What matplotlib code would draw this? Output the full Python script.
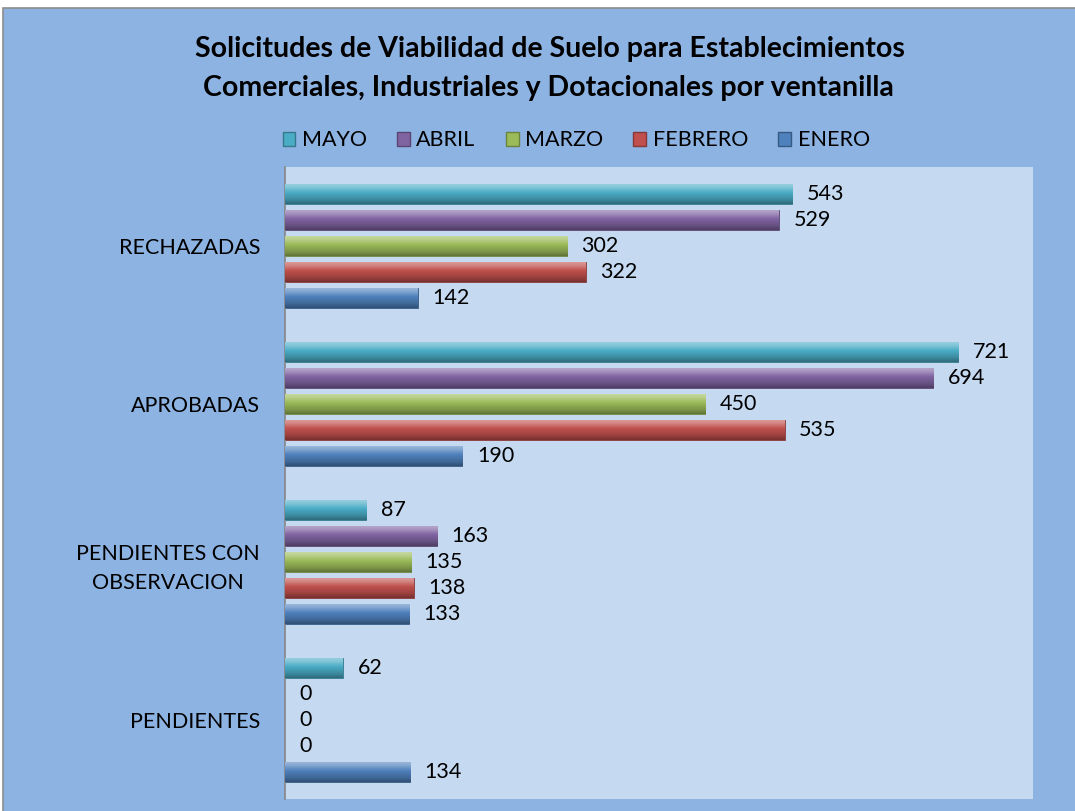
import numpy as np
import matplotlib.pyplot as plt
from matplotlib.patches import Rectangle, Patch
from matplotlib.colors import to_rgb

# data
categories = ["PENDIENTES", "PENDIENTES CON\nOBSERVACION", "APROBADAS", "RECHAZADAS"]
series = ["ENERO", "FEBRERO", "MARZO", "ABRIL", "MAYO"]
enero = [134, 133, 190, 142]
febrero = [0, 138, 535, 322]
marzo = [0, 135, 450, 302]
abril = [0, 163, 694, 529]
mayo = [62, 87, 721, 543]
values = [enero, febrero, marzo, abril, mayo]
colors = ["#4F81BD", "#C0504D", "#9BBB59", "#8064A2", "#4BACC6"]

plt.rcParams["font.family"] = ["Lato", "DejaVu Sans"]

fig = plt.figure(figsize=(10.75, 8.11), dpi=100)
fig.patch.set_facecolor("white")
fig.patches.append(Rectangle((0.003, -0.01), 1.1, 1.0, transform=fig.transFigure,
                             facecolor="#8DB3E2", edgecolor="#8C8C8C", lw=1.2, zorder=-10))

ax = fig.add_axes([0.2651, 0.0148, 0.6958, 0.7792])
ax.set_facecolor("#C5D9F1")

slot = 0.1646
bh = 0.1266
y = np.arange(len(categories))


def shade(c, f):
    r = np.array(to_rgb(c))
    if f >= 1:
        return r + (1 - r) * (f - 1)
    return r * f


for i, (name, vals, col) in enumerate(zip(series, values, colors)):
    ypos = y + (i - 2) * slot
    bars = ax.barh(ypos, vals, height=bh, color=col,
                   edgecolor=[shade(col, 0.7) if v > 0 else "none" for v in vals],
                   lw=0.6, zorder=2)
    for p, v in zip(bars, vals):
        x0, y0, w, h = p.get_x(), p.get_y(), p.get_width(), p.get_height()
        if w > 0:
            # vertical gradient, dark at bottom and light at top
            stops = np.array([0.0, 0.2, 0.55, 0.8, 1.0])
            facs = np.array([0.62, 0.8, 1.0, 1.3, 1.45])
            t = np.linspace(0, 1, 40)
            f = np.interp(t, stops, facs)
            img = np.array([shade(col, k) for k in f]).reshape(-1, 1, 3)
            im = ax.imshow(img, extent=(x0, x0 + w, y0, y0 + h), origin="lower",
                           aspect="auto", zorder=3, interpolation="bilinear")
            im.set_clip_path(p)
        ax.annotate(str(v), (v, y0 + h / 2), xytext=(10.5, 0), textcoords="offset points",
                    ha="left", va="center", fontsize=15.5, color="black")

ax.set_xlim(0, 801)
ax.set_ylim(-0.5, len(categories) - 0.5)
ax.set_yticks(y)
ax.set_yticklabels(categories, fontsize=15.5, multialignment="center", linespacing=1.55)
ax.tick_params(axis="y", length=0, pad=18)
ax.set_xticks([])
for s in ["top", "right", "bottom"]:
    ax.spines[s].set_visible(False)
ax.spines["left"].set_color("#868686")
ax.spines["left"].set_linewidth(1.2)

fig.text(0.512, 0.94, "Solicitudes de Viabilidad de Suelo para Establecimientos",
         ha="center", va="center", fontsize=20.5, fontweight="bold")
fig.text(0.51, 0.892, "Comerciales, Industriales y Dotacionales por ventanilla",
         ha="center", va="center", fontsize=20.5, fontweight="bold")

handles = [Patch(facecolor=colors[i], edgecolor=shade(colors[i], 0.7), label=series[i])
           for i in range(4, -1, -1)]
fig.legend(handles=handles, loc="center", bbox_to_anchor=(0.536, 0.827), ncol=5,
           frameon=False, fontsize=15.5, handlelength=0.6, handleheight=0.6,
           handletextpad=0.3, columnspacing=1.4)

fig.savefig("out.png", dpi=100, facecolor=fig.get_facecolor())
